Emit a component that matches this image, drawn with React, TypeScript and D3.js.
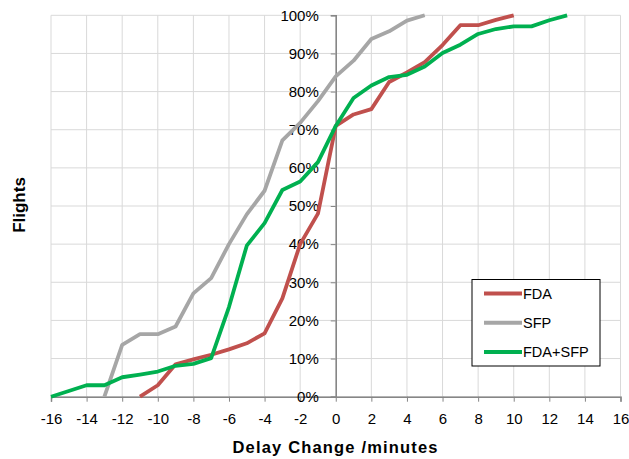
import { useEffect, useRef } from "react";
import * as d3 from "d3";

const delays = [-16, -15, -14, -13, -12, -11, -10, -9, -8, -7, -6, -5, -4, -3, -2, -1, 0, 1, 2, 3, 4, 5, 6, 7, 8, 9, 10, 11, 12, 13];

// cumulative share of flights (%) per delay change, null = not plotted
const fda = [null, null, null, null, null, 0, 3, 8.5, 9.8, 11, 12.4, 14, 16.6, 25.8, 40, 48, 71, 74, 75.4, 82.5, 85, 87.7, 92.2, 97.4, 97.4, 98.8, 100, null, null, null];
const sfp = [null, null, null, 0, 13.6, 16.4, 16.4, 18.4, 27.1, 31.1, 40, 47.8, 54, 67.2, 71.8, 77.5, 84, 88.1, 93.8, 95.8, 98.6, 100, null, null, null, null, null, null, null, null];
const fdaSfp = [0, 1.5, 3, 3, 5.1, 5.8, 6.6, 8.1, 8.6, 10.1, 23.5, 39.6, 45.5, 54.2, 56.4, 61.5, 71, 78.3, 81.6, 83.8, 84.4, 86.6, 90.1, 92.3, 95.1, 96.4, 97.1, 97.1, 98.7, 100];

const seriesNames = ["FDA", "SFP", "FDA+SFP"];
const seriesColors = ["#C0504D", "#A6A6A6", "#00B050"];
const xTicks = d3.range(-16, 17, 2);
const yTicks = d3.range(0, 101, 10);

const font = "'Liberation Sans', Arial, sans-serif";

function App() {
  const ref = useRef<SVGSVGElement>(null);

  useEffect(() => {
    const svg = d3.select(ref.current);
    svg.selectAll("*").remove();

    const x = d3.scaleLinear().domain([-16, 16]).range([51, 620.5]);
    const y = d3.scaleLinear().domain([0, 100]).range([396.7, 15.3]);

    // grid
    const grid = svg.append("g");
    grid.selectAll("line.v")
      .data(xTicks)
      .enter()
      .append("line")
      .attr("x1", (d) => x(d))
      .attr("x2", (d) => x(d))
      .attr("y1", y(0))
      .attr("y2", y(100))
      .attr("stroke", "#D9D9D9")
      .attr("stroke-width", 1);
    grid.selectAll("line.h")
      .data(yTicks)
      .enter()
      .append("line")
      .attr("x1", x(-16))
      .attr("x2", x(16))
      .attr("y1", (d) => y(d))
      .attr("y2", (d) => y(d))
      .attr("stroke", "#D9D9D9")
      .attr("stroke-width", 1);

    // x axis at 0%
    const xAxis = svg
      .append("g")
      .attr("transform", `translate(0,${y(0)})`)
      .call(
        d3.axisBottom(x)
          .tickValues(xTicks)
          .tickSize(5)
          .tickPadding(12)
          .tickFormat((d) => String(d))
      );
    xAxis.select(".domain").attr("stroke", "#868686").attr("stroke-width", 1.5);
    xAxis.selectAll(".tick line").attr("stroke", "#868686");
    xAxis.selectAll("text")
      .attr("font-family", font)
      .attr("font-size", 15)
      .attr("fill", "#000");

    // y axis at x = 0
    const yAxis = svg
      .append("g")
      .attr("transform", `translate(${x(0)},0)`)
      .call(
        d3.axisLeft(y)
          .tickValues(yTicks)
          .tickSize(5)
          .tickPadding(12)
          .tickFormat((d) => `${d}%`)
      );
    yAxis.select(".domain").attr("stroke", "#868686").attr("stroke-width", 1.5);
    yAxis.selectAll(".tick line").attr("stroke", "#868686");
    yAxis.selectAll("text")
      .attr("font-family", font)
      .attr("font-size", 15)
      .attr("fill", "#000");

    // lines
    const allSeries = [fda, sfp, fdaSfp];
    const line = d3
      .line<number | null>()
      .defined((d) => d !== null)
      .x((_, i) => x(delays[i]))
      .y((d) => y(d as number));
    allSeries.forEach((s, i) => {
      svg.append("path")
        .datum(s)
        .attr("d", line)
        .attr("fill", "none")
        .attr("stroke", seriesColors[i])
        .attr("stroke-width", 3.8)
        .attr("stroke-linejoin", "round");
    });

    // legend
    const lg = svg.append("g").attr("transform", "translate(472,279.5)");
    lg.append("rect")
      .attr("width", 128)
      .attr("height", 86.5)
      .attr("fill", "#fff")
      .attr("stroke", "#000")
      .attr("stroke-width", 1);
    seriesNames.forEach((name, i) => {
      const yy = 14 + i * 29.2;
      lg.append("line")
        .attr("x1", 12)
        .attr("x2", 50)
        .attr("y1", yy)
        .attr("y2", yy)
        .attr("stroke", seriesColors[i])
        .attr("stroke-width", 4);
      lg.append("text")
        .attr("x", 51)
        .attr("y", yy)
        .attr("dy", "0.35em")
        .attr("font-family", font)
        .attr("font-size", 14.5)
        .text(name);
    });

    // axis titles
    svg.append("text")
      .attr("x", 335)
      .attr("y", 453)
      .attr("text-anchor", "middle")
      .attr("font-family", font)
      .attr("font-weight", "bold")
      .attr("font-size", 16.5)
      .attr("textLength", 205)
      .text("Delay Change /minutes");
    svg.append("text")
      .attr("transform", "translate(25,205) rotate(-90)")
      .attr("text-anchor", "middle")
      .attr("font-family", font)
      .attr("font-weight", "bold")
      .attr("font-size", 17)
      .text("Flights");
  }, []);

  return (
    <svg
      ref={ref}
      width={629}
      height={459}
      style={{ position: "absolute", left: 0, top: 0, background: "#fff" }}
    ></svg>
  );
}

export default App;
